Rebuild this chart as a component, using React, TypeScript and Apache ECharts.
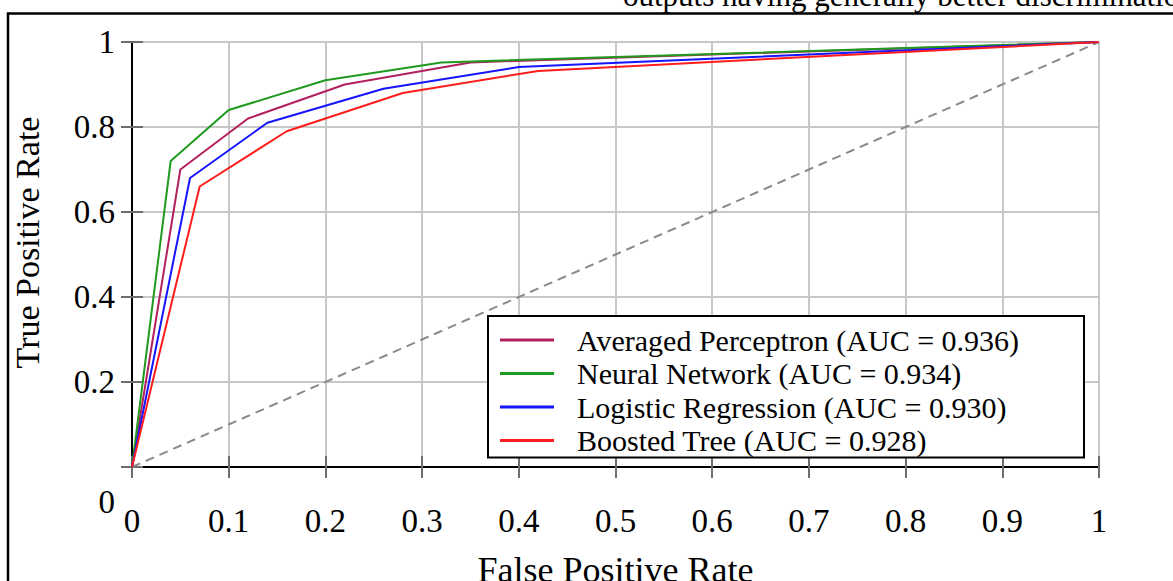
import React, { useEffect, useRef } from 'react';
import * as echarts from 'echarts';

const modelNames = ['Averaged Perceptron', 'Neural Network', 'Logistic Regression', 'Boosted Tree'];
const aucValues = ['0.936', '0.934', '0.930', '0.928'];
const lineColors = ['#b3205e', '#1f9a1f', '#1414ff', '#ff1c1c'];

const fprAveragedPerceptron = [0, 0.05, 0.12, 0.22, 0.35, 1];
const tprAveragedPerceptron = [0, 0.70, 0.82, 0.90, 0.952, 1];
const fprNeuralNetwork = [0, 0.04, 0.10, 0.20, 0.32, 1];
const tprNeuralNetwork = [0, 0.72, 0.84, 0.91, 0.952, 1];
const fprLogisticRegression = [0, 0.06, 0.14, 0.26, 0.40, 1];
const tprLogisticRegression = [0, 0.68, 0.81, 0.89, 0.941, 1];
const fprBoostedTree = [0, 0.07, 0.16, 0.28, 0.42, 1];
const tprBoostedTree = [0, 0.66, 0.79, 0.88, 0.932, 1];

const diagonalX = [0, 1];
const diagonalY = [0, 1];

const xAxisTitle = 'False Positive Rate';
const yAxisTitle = 'True Positive Rate';
const topCaption = 'outputs having generally better discrimination';

const FONT = "'Liberation Serif', 'Times New Roman', serif";

const zip = (xs: number[], ys: number[]) => xs.map((x, i) => [x, ys[i]]);
const fmt = (v: number) => String(+v.toFixed(1));

export default function App() {
  const ref = useRef<HTMLDivElement>(null);
  useEffect(() => {
    if (!ref.current) return;
    const chart = echarts.init(ref.current, null, { renderer: 'svg' });
    const curves = [
      zip(fprAveragedPerceptron, tprAveragedPerceptron),
      zip(fprNeuralNetwork, tprNeuralNetwork),
      zip(fprLogisticRegression, tprLogisticRegression),
      zip(fprBoostedTree, tprBoostedTree),
    ];
    const names = modelNames.map((n, i) => `${n} (AUC = ${aucValues[i]})`);
    const axisLineStyle = { color: '#222', width: 2 };
    const tickStyle = { show: true, inside: true, length: 11, lineStyle: { color: '#6e6e6e', width: 2 } };
    const gridLine = { show: true, lineStyle: { color: '#c8c8c8', width: 2 } };
    chart.setOption({
      animation: false,
      backgroundColor: '#fff',
      color: lineColors,
      grid: { left: 132, right: 74, top: 42, bottom: 114, containLabel: false, outerBoundsMode: 'none' },
      legend: {
        data: names,
        orient: 'vertical',
        left: 488,
        top: 316,
        icon: 'rect',
        itemWidth: 54,
        itemHeight: 3,
        itemGap: 3.5,
        padding: [9, 17, 2, 12],
        borderColor: '#000',
        borderWidth: 2,
        backgroundColor: '#fff',
        selectedMode: false,
        textStyle: {
          fontFamily: FONT,
          fontSize: 30,
          color: '#000',
          lineHeight: 30,
          width: 490,
          padding: [0, 0, 0, 18],
        },
      },
      xAxis: [
        {
          type: 'value',
          min: 0,
          max: 1,
          interval: 0.1,
          position: 'bottom',
          axisLine: { show: true, lineStyle: axisLineStyle },
          axisTick: tickStyle,
          splitLine: gridLine,
          axisLabel: { margin: 37, fontSize: 33, fontFamily: FONT, color: '#000', formatter: fmt },
          name: xAxisTitle,
          nameLocation: 'middle',
          nameGap: 85,
          nameTextStyle: { fontFamily: FONT, fontSize: 36, color: '#000' },
        },
        {
          type: 'value',
          min: 0,
          max: 1,
          interval: 0.1,
          position: 'top',
          axisLine: { show: true, lineStyle: { color: '#000', width: 2 } },
          axisTick: tickStyle,
          splitLine: { show: false },
          axisLabel: { show: false },
        },
      ],
      yAxis: [
        {
          type: 'value',
          min: 0,
          max: 1,
          interval: 0.2,
          position: 'left',
          axisLine: { show: true, lineStyle: { color: '#000', width: 2 } },
          axisTick: tickStyle,
          splitLine: gridLine,
          axisLabel: {
            margin: 17,
            fontSize: 33,
            fontFamily: FONT,
            color: '#000',
            formatter: (v: number) => (v === 0 ? '{z|0}' : fmt(v)),
            rich: { z: { padding: [70, 0, 0, 0], fontSize: 33, fontFamily: FONT, color: '#000' } },
          },
          name: yAxisTitle,
          nameLocation: 'middle',
          nameGap: 88,
          nameRotate: 90,
          nameTextStyle: { fontFamily: FONT, fontSize: 34, color: '#000', padding: [0, 0, 0, 24] },
        },
        {
          type: 'value',
          min: 0,
          max: 1,
          interval: 0.2,
          position: 'right',
          axisLine: { show: true, lineStyle: { color: '#000', width: 2 } },
          axisTick: tickStyle,
          splitLine: { show: false },
          axisLabel: { show: false },
        },
      ],
      graphic: [
        {
          type: 'rect',
          shape: { x: 8, y: 13.5, width: 1400, height: 800 },
          style: { fill: 'none', stroke: '#000', lineWidth: 2.5 },
          silent: true,
          z: -10,
        },
        {
          type: 'text',
          x: 623,
          y: 11,
          style: {
            text: topCaption,
            fontFamily: FONT,
            fontSize: 31,
            fill: '#000',
            verticalAlign: 'bottom',
          },
          silent: true,
        },
      ],
      series: [
        {
          name: 'diagonal',
          type: 'line',
          data: zip(diagonalX, diagonalY),
          showSymbol: false,
          silent: true,
          lineStyle: { color: '#8a8a8a', width: 2, type: [9, 6] },
          itemStyle: { color: '#8a8a8a' },
          z: 1,
        },
        ...curves.map((d, i) => ({
          name: names[i],
          type: 'line',
          data: d,
          showSymbol: false,
          lineStyle: { color: lineColors[i], width: 2 },
          itemStyle: { color: lineColors[i] },
          z: 2 + i,
        })),
      ],
    });
    return () => chart.dispose();
  }, []);
  return (
    <div
      ref={ref}
      style={{ position: 'absolute', left: 0, top: 0, width: 1173, height: 581, background: '#fff' }}
    />
  );
}
